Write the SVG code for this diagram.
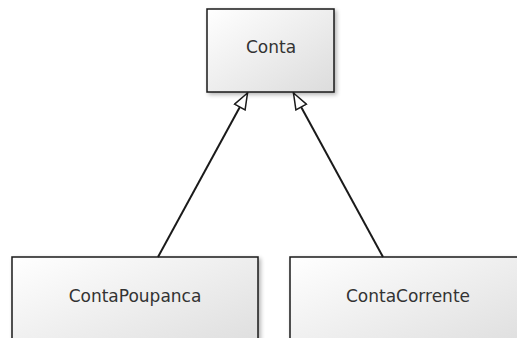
<svg xmlns="http://www.w3.org/2000/svg" width="517" height="338" viewBox="0 0 517 338">
<defs>
<linearGradient id="g" x1="0" y1="0" x2="1" y2="1">
<stop offset="0" stop-color="#ffffff"/>
<stop offset="1" stop-color="#dcdcdc"/>
</linearGradient>
<filter id="sh" x="-10%" y="-10%" width="130%" height="130%">
<feGaussianBlur in="SourceAlpha" stdDeviation="2"/>
<feOffset dx="2" dy="2" result="b"/>
<feComponentTransfer><feFuncA type="linear" slope="0.3"/></feComponentTransfer>
<feMerge><feMergeNode/><feMergeNode in="SourceGraphic"/></feMerge>
</filter>
<marker id="tri" viewBox="0 0 18 14" refX="17" refY="7" markerWidth="18" markerHeight="14" markerUnits="userSpaceOnUse" orient="auto">
<path d="M1,1 L17,7 L1,13 Z" fill="#ffffff" stroke="#1a1a1a" stroke-width="1.5" stroke-linejoin="miter"/>
</marker>
</defs>
<style>
.box{fill:url(#g);stroke:#1a1a1a;stroke-width:1.5;filter:url(#sh)}
.lbl{font-family:"DejaVu Sans",Verdana,sans-serif;font-size:17px;fill:#333;text-anchor:middle;dominant-baseline:central}
.edge{stroke:#1a1a1a;stroke-width:2;fill:none;marker-end:url(#tri)}
</style>
<rect width="517" height="338" fill="#ffffff"/>
<g id="conta">
<rect class="box" x="207" y="9" width="127" height="83"/>
<text class="lbl" x="271" y="47">Conta</text>
</g>
<g id="contaPoupanca">
<rect class="box" x="12" y="257" width="246" height="100"/>
<text class="lbl" x="135" y="296">ContaPoupanca</text>
</g>
<g id="contaCorrente">
<rect class="box" x="290" y="257" width="240" height="100"/>
<text class="lbl" x="408" y="296">ContaCorrente</text>
</g>
<g id="connectors">
<line class="edge" x1="158" y1="257" x2="247.5" y2="93"/>
<line class="edge" x1="383" y1="257" x2="293.5" y2="93"/>
</g>
</svg>
